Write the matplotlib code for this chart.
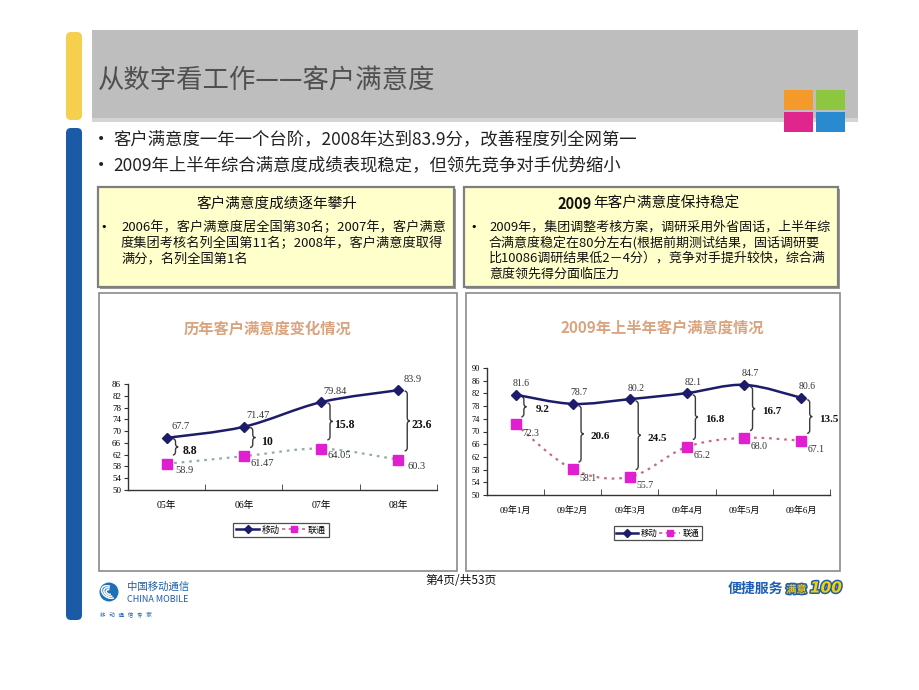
import numpy as np
import matplotlib
matplotlib.use("Agg")
import matplotlib.pyplot as plt
from matplotlib.path import Path
from matplotlib.patches import PathPatch, Rectangle, FancyBboxPatch, Circle, Arc
from matplotlib.lines import Line2D
import matplotlib.patheffects as pe

plt.rcParams['font.family'] = ['Noto Sans CJK SC', 'DejaVu Sans']

# ---- data ----
years = ['05年', '06年', '07年', '08年']
yd_years = [67.7, 71.47, 79.84, 83.9]        # 移动
lt_years = [58.9, 61.47, 64.05, 60.3]        # 联通
gap_years = ['8.8', '10', '15.8', '23.6']
yd_years_lbl = ['67.7', '71.47', '79.84', '83.9']
lt_years_lbl = ['58.9', '61.47', '64.05', '60.3']

months = ['09年1月', '09年2月', '09年3月', '09年4月', '09年5月', '09年6月']
yd_months = [81.6, 78.7, 80.2, 82.1, 84.7, 80.6]
lt_months = [72.3, 58.1, 55.7, 65.2, 68.0, 67.1]
gap_months = ['9.2', '20.6', '24.5', '16.8', '16.7', '13.5']
yd_months_lbl = ['81.6', '78.7', '80.2', '82.1', '84.7', '80.6']
lt_months_lbl = ['72.3', '58.1', '55.7', '65.2', '68.0', '67.1']

NAVY = '#1c1c6b'
MAGENTA = '#e020d0'
SERIF = ['Liberation Serif', 'Noto Sans CJK SC']

W, H = 920, 690
fig = plt.figure(figsize=(9.2, 6.9), dpi=100)
fig.patch.set_facecolor('white')

# background axes in pixel coordinates
bg = fig.add_axes([0, 0, 1, 1])
bg.set_xlim(0, W)
bg.set_ylim(H, 0)
bg.axis('off')
bg.set_zorder(0)


def fpos(l, t, r, b):
    return [l / W, 1 - b / H, (r - l) / W, (b - t) / H]


# side bars and header
bg.add_patch(FancyBboxPatch((66, 32), 16, 88, boxstyle='round,pad=0,rounding_size=5',
                            fc='#f6cf4f', ec='none'))
bg.add_patch(FancyBboxPatch((66, 128), 16, 492, boxstyle='round,pad=0,rounding_size=5',
                            fc='#1b5aa6', ec='none'))
bg.add_patch(Rectangle((92, 30), 766, 92, fc='#bebebe', ec='none'))
bg.add_patch(Rectangle((92, 118), 766, 4, fc='#d4d4d4', ec='none'))
bg.text(98, 80, '从数字看工作——客户满意度', fontsize=19, color='#505050',
        va='center', ha='left', fontweight='light')
for (x0, y0, c) in [(784, 90, '#f39a2b'), (816, 90, '#8dc63f'),
                    (784, 112, '#e0258c'), (816, 112, '#2a8ad0')]:
    bg.add_patch(Rectangle((x0, y0), 29, 20, fc=c, ec='none'))

# main bullets
bullets = ['客户满意度一年一个台阶，2008年达到83.9分，改善程度列全网第一',
           '2009年上半年综合满意度成绩表现稳定，但领先竞争对手优势缩小']
for i, t in enumerate(bullets):
    y = 139 + i * 26
    bg.text(101, y, '•', fontsize=10, va='center', ha='center', color='#222222',
            family='DejaVu Sans')
    bg.text(113, y, t, fontsize=12.5, va='center', ha='left', color='#222222')

# yellow boxes
for (l, r) in [(98, 454), (464, 838)]:
    bg.add_patch(Rectangle((l + 2, 189), r - l, 100, fc='#9a9a9a', ec='none'))
    bg.add_patch(Rectangle((l, 187), r - l, 100, fc='#ffffcc', ec='#7f7f7f', lw=1.6))

bg.text(277, 204, '客户满意度成绩逐年攀升', fontsize=10.5, ha='center', va='center', color='#111111')
left_lines = ['2006年，客户满意度居全国第30名；2007年，客户满意',
              '度集团考核名列全国第11名；2008年，客户满意度取得',
              '满分，名列全国第1名']
bg.text(104, 227, '•', fontsize=8, ha='center', va='center', family='DejaVu Sans')
for i, t in enumerate(left_lines):
    bg.text(121, 227 + i * 16, t, fontsize=9.5, ha='left', va='center', color='#111111')

bg.text(592, 204, '2009', fontsize=10.5, ha='right', va='center', fontweight='bold', color='#111111')
bg.text(593, 204, '年客户满意度保持稳定', fontsize=10.5, ha='left', va='center', color='#111111')
right_lines = ['2009年，集团调整考核方案，调研采用外省固话，上半年综',
               '合满意度稳定在80分左右(根据前期测试结果，固话调研要',
               '比10086调研结果低2－4分），竞争对手提升较快，综合满',
               '意度领先得分面临压力']
bg.text(474, 227, '•', fontsize=8, ha='center', va='center', family='DejaVu Sans')
for i, t in enumerate(right_lines):
    bg.text(489, 227 + i * 15.7, t, fontsize=9.4, ha='left', va='center', color='#111111')

# chart panels
for (l, r) in [(99, 457), (466, 840)]:
    bg.add_patch(Rectangle((l, 293), r - l, 278, fc='white', ec='#8a8a8a', lw=1.2))

# footer
bg.text(461, 580, '第4页/共53页', fontsize=8.5, ha='center', va='center', color='#111111')
bg.add_patch(Circle((109, 592), 9.5, fc='#1e6fb8', ec='none'))
for rr in [3, 5.5, 8]:
    bg.add_patch(Arc((109, 592), rr * 2, rr * 1.4, angle=30, theta1=20, theta2=250,
                     color='white', lw=1.1))
bg.text(127, 587, '中国移动通信', fontsize=7.5, color='#1e5fae', ha='left', va='center')
bg.text(127, 599, 'CHINA MOBILE', fontsize=6.5, color='#1e5fae', ha='left', va='center')
bg.text(100, 614, '移   动   通   信   专   家', fontsize=4, color='#1e5fae', ha='left', va='center')
bg.text(728, 589, '便捷服务', fontsize=10, color='#1f5fb3', ha='left', va='center',
        fontweight='bold')
bg.text(786, 590, '满意', fontsize=7.5, color='#f4c400', ha='left', va='center', fontweight='bold',
        path_effects=[pe.withStroke(linewidth=2.2, foreground='#1f5fb3')])
bg.text(810, 588, '100', fontsize=11, color='#f7d000', ha='left', va='center', fontweight='bold',
        style='italic', family='DejaVu Sans',
        path_effects=[pe.withStroke(linewidth=2.2, foreground='#1f5fb3')])


def smooth_path(xs, ys):
    pts = np.column_stack([xs, ys]).astype(float)
    n = len(pts)
    verts = [pts[0]]
    codes = [Path.MOVETO]
    for i in range(n - 1):
        p0 = pts[i - 1] if i > 0 else pts[i]
        p1, p2 = pts[i], pts[i + 1]
        p3 = pts[i + 2] if i + 2 < n else pts[i + 1]
        verts += [p1 + (p2 - p0) / 6, p2 - (p3 - p1) / 6, p2]
        codes += [Path.CURVE4] * 3
    return Path(verts, codes)


def brace(ax, x, yt, yb, w, d):
    xm = x + w / 2
    ym = (yt + yb) / 2
    verts = [(x, yt), (xm, yt), (xm, yt - d), (xm, ym + d), (xm, ym), (x + w, ym),
             (xm, ym), (xm, ym - d), (xm, yb + d), (xm, yb), (x, yb)]
    codes = [Path.MOVETO, Path.CURVE3, Path.CURVE3, Path.LINETO, Path.CURVE3, Path.CURVE3,
             Path.CURVE3, Path.CURVE3, Path.LINETO, Path.CURVE3, Path.CURVE3]
    ax.add_patch(PathPatch(Path(verts, codes), fc='none', ec='#3a3a3a', lw=1.0, zorder=2))


def chart(pos, title, title_xy, cats, yd, lt, gaps, yd_lbl, lt_lbl, ylim, lt_color,
          fs, up_off, lo_off, bw, gap_dx, trim, leg_xy):
    ax = fig.add_axes(pos)
    ax.set_facecolor('none')
    x = np.arange(len(cats))
    ax.add_patch(PathPatch(smooth_path(x, lt), fc='none', ec=lt_color, lw=1.6,
                           ls=(0, (1.2, 2.2)), zorder=2))
    ax.add_patch(PathPatch(smooth_path(x, yd), fc='none', ec=NAVY, lw=1.8, zorder=3))
    ax.plot(x, yd, ls='none', marker='D', ms=5.5, color=NAVY, zorder=4)
    ax.plot(x, lt, ls='none', marker='s', ms=6.5, color=MAGENTA, zorder=4)
    for i in range(len(cats)):
        ax.annotate(yd_lbl[i], (x[i], yd[i]), xytext=up_off, textcoords='offset pixels',
                    ha='center', va='center', fontsize=fs + 1, family=SERIF, color='#333333')
        ax.annotate(lt_lbl[i], (x[i], lt[i]), xytext=lo_off, textcoords='offset pixels',
                    ha='center', va='center', fontsize=fs + 1, family=SERIF, color='#333333')
        brace(ax, x[i] + bw[0], yd[i] - trim[0], lt[i] + trim[1], bw[1], trim[2])
        ax.text(x[i] + gap_dx, (yd[i] + lt[i]) / 2, gaps[i], ha='center', va='center',
                fontsize=fs + 2, fontweight='bold', family=SERIF, color='#111111')
    ax.set_xlim(-0.5, len(cats) - 0.5)
    ax.set_ylim(*ylim)
    ax.set_yticks(np.arange(ylim[0], ylim[1] + 1, 4))
    ax.set_xticks(x)
    ax.set_xticklabels(cats, family=SERIF, fontsize=fs + 0.5)
    ax.set_xticks(np.arange(-0.5, len(cats)), minor=True)
    ax.tick_params(axis='x', which='major', length=0, pad=8)
    ax.tick_params(axis='x', which='minor', direction='in', length=4, color='#333333')
    ax.tick_params(axis='y', direction='out', length=3, labelsize=fs, pad=2, color='#333333')
    for lab in ax.get_yticklabels():
        lab.set_family(SERIF)
    for s in ['top', 'right']:
        ax.spines[s].set_visible(False)
    for s in ['left', 'bottom']:
        ax.spines[s].set_color('#333333')
        ax.spines[s].set_linewidth(1.0)
    fig.text(title_xy[0] / W, 1 - title_xy[1] / H, title, ha='center', va='center',
             fontsize=11, fontweight='bold', color='#d9a47f')
    handles = [Line2D([], [], color=NAVY, lw=1.8, marker='D', ms=4),
               Line2D([], [], color='#d0609a', lw=1.2, ls=(0, (2, 2)), marker='s', ms=5,
                      mfc=MAGENTA, mec=MAGENTA)]
    leg = ax.legend(handles, ['移动', '联通'], ncol=2, loc='center',
                    bbox_to_anchor=(leg_xy[0] / W, 1 - leg_xy[1] / H),
                    bbox_transform=fig.transFigure, fontsize=fs, frameon=True,
                    fancybox=False, edgecolor='#222222', handlelength=2.6,
                    handletextpad=0.3, columnspacing=0.2, borderpad=0.3)
    leg.get_frame().set_linewidth(0.9)
    return ax


chart(fpos(128, 384, 437, 490), '历年客户满意度变化情况', (268, 329), years,
      yd_years, lt_years, gap_years, yd_years_lbl, lt_years_lbl, (50, 86), '#93ad9f',
      6.5, (14, 11), (18, -7), (0.08, 0.07), 0.3, (0.3, 3.0, 1.1), (281, 530))

chart(fpos(487, 368, 830, 495), '2009年上半年客户满意度情况', (662, 328), months,
      yd_months, lt_months, gap_months, yd_months_lbl, lt_months_lbl, (50, 90), '#c86a82',
      6.0, (6, 11), (15, -9), (0.1, 0.09), 0.48, (0.6, 2.3, 1.0), (658, 533))

fig.savefig('out.png', dpi=100)
